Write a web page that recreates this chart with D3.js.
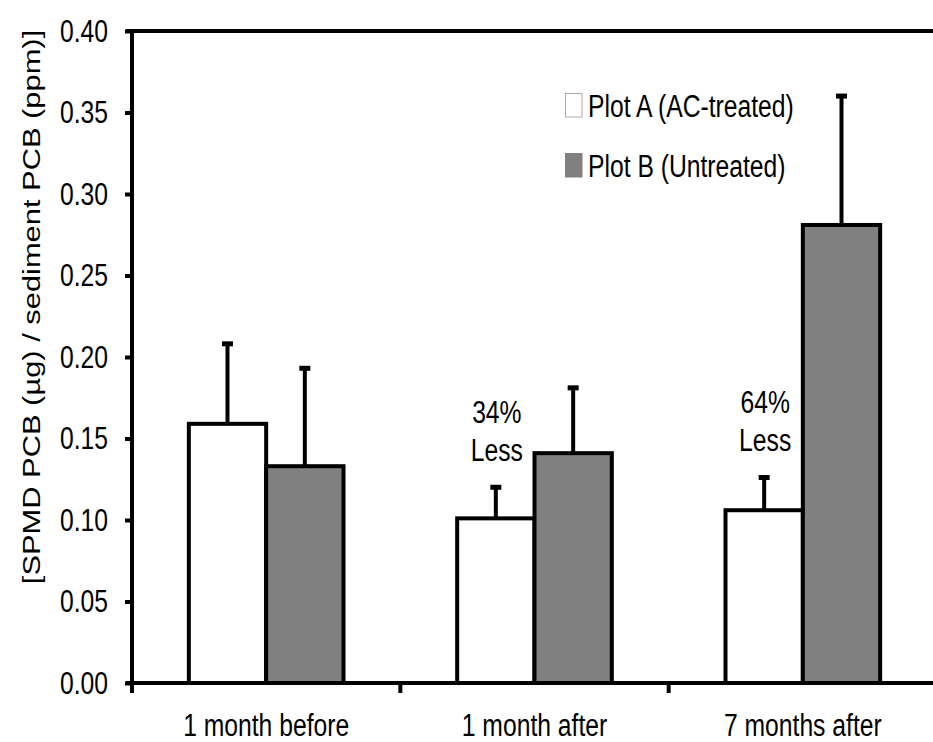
<!DOCTYPE html>
<html>
<head>
<meta charset="utf-8">
<script src="https://cdn.jsdelivr.net/npm/d3@7"></script>
<style>
  body { margin: 0; background: #fff; }
  text { font-family: "Liberation Sans", Arial, sans-serif; fill: #000; }
</style>
</head>
<body>
<div id="wrapper"></div>
<script>
const periods = ["1 month before", "1 month after", "7 months after"];
const seriesNames = ["Plot A (AC-treated)", "Plot B (Untreated)"];
const plotA = [0.159, 0.101, 0.106];
const plotB = [0.133, 0.141, 0.281];
const errA = [0.209, 0.121, 0.127];
const errB = [0.194, 0.182, 0.361];
const notes = [null, ["34%", "Less"], ["64%", "Less"]];
const yTicks = [0, 0.05, 0.1, 0.15, 0.2, 0.25, 0.3, 0.35, 0.4];

const fills = ["#ffffff", "#808080"];
const fontSize = 24.7;
const stretch = 1.25; // the text in the figure is drawn taller than wide

const width = 933;
const height = 742;
const margin = { top: 31, right: -4, bottom: 59, left: 132 };

const svg = d3.select("#wrapper").append("svg")
  .attr("width", width)
  .attr("height", height);

const x = d3.scaleBand()
  .domain(periods)
  .range([margin.left, width - margin.right])
  .paddingInner(0)
  .paddingOuter(0);

const xInner = d3.scaleBand()
  .domain([0, 1])
  .range([0, x.bandwidth()])
  .paddingOuter(0.735)
  .paddingInner(0);

const y = d3.scaleLinear()
  .domain([0, 0.4])
  .range([height - margin.bottom, margin.top]);

// text with baseline at (tx, ty), stretched vertically
function tallText(parent, tx, ty, str, anchor) {
  return parent.append("text")
    .attr("transform", `translate(${tx},${ty}) scale(1,${stretch})`)
    .attr("text-anchor", anchor || "start")
    .attr("font-size", fontSize)
    .text(str);
}

// bars
const groups = svg.selectAll(".group")
  .data(periods)
  .join("g")
  .attr("transform", (d) => `translate(${x(d)},0)`);

groups.each(function (p, i) {
  const g = d3.select(this);
  const vals = [plotA[i], plotB[i]];
  const errs = [errA[i], errB[i]];
  vals.forEach((v, s) => {
    const cx = xInner(s) + xInner.bandwidth() / 2;
    g.append("line")
      .attr("x1", cx).attr("x2", cx)
      .attr("y1", y(v)).attr("y2", y(errs[s]))
      .attr("stroke", "#000").attr("stroke-width", 4);
    g.append("line")
      .attr("x1", cx - 5.5).attr("x2", cx + 5.5)
      .attr("y1", y(errs[s]) + 1.5).attr("y2", y(errs[s]) + 1.5)
      .attr("stroke", "#000").attr("stroke-width", 5);
  });
  vals.forEach((v, s) => {
    g.append("rect")
      .attr("x", xInner(s))
      .attr("width", xInner.bandwidth())
      .attr("y", y(v))
      .attr("height", y(0) - y(v))
      .attr("fill", fills[s])
      .attr("stroke", "#000")
      .attr("stroke-width", 4);
  });
  if (notes[i]) {
    const tx = xInner(0) + xInner.bandwidth() / 2 + 1;
    const ty = y(errA[i]) - 63;
    tallText(g, tx, ty, notes[i][0], "middle");
    tallText(g, tx, ty + 38, notes[i][1], "middle");
  }
});

// top frame line
svg.append("line")
  .attr("x1", margin.left - 6).attr("x2", width)
  .attr("y1", y(0.4)).attr("y2", y(0.4))
  .attr("stroke", "#000").attr("stroke-width", 4);

// y axis
const yAxis = svg.append("g")
  .attr("transform", `translate(${margin.left},0)`)
  .call(d3.axisLeft(y).tickValues(yTicks).tickFormat(d3.format(".2f")).tickSize(7).tickPadding(17));
yAxis.select(".domain").attr("stroke-width", 4).attr("d", `M0,${y(0)}V${y(0.4)}`);
yAxis.selectAll(".tick line").attr("stroke-width", 4);
yAxis.selectAll(".tick text")
  .attr("font-size", fontSize)
  .attr("font-family", null)
  .attr("dy", "0.33em")
  .attr("transform", `scale(1,${stretch})`);

// x axis
const xAxis = svg.append("g")
  .attr("transform", `translate(0,${y(0)})`)
  .call(d3.axisBottom(x).tickSize(0));
xAxis.select(".domain").attr("stroke-width", 4).attr("d", `M${margin.left - 6},0H${width}`);
xAxis.selectAll(".tick text")
  .attr("font-size", fontSize)
  .attr("font-family", null)
  .attr("y", 0).attr("dy", 0)
  .attr("transform", `translate(0,53) scale(1,${stretch})`);
xAxis.selectAll(".sep")
  .data(periods)
  .join("line")
  .attr("class", "sep")
  .attr("x1", (d) => x(d) + x.bandwidth()).attr("x2", (d) => x(d) + x.bandwidth())
  .attr("y1", 0).attr("y2", 10)
  .attr("stroke", "#000").attr("stroke-width", 4);
xAxis.append("line")
  .attr("x1", margin.left).attr("x2", margin.left)
  .attr("y1", 0).attr("y2", 10)
  .attr("stroke", "#000").attr("stroke-width", 4);

// y label
svg.append("text")
  .attr("transform", `translate(40,307) rotate(-90) scale(${stretch},1)`)
  .attr("text-anchor", "middle")
  .attr("font-size", fontSize)
  .text("[SPMD PCB (µg) / sediment PCB (ppm)]");

// legend
const legend = svg.append("g").attr("transform", "translate(565,93)");
seriesNames.forEach((name, i) => {
  const row = legend.append("g").attr("transform", `translate(0,${i * 60})`);
  row.append("rect")
    .attr("x", 0.5).attr("y", 0.5)
    .attr("width", 16.5).attr("height", 23.5)
    .attr("fill", fills[i])
    .attr("stroke", i === 0 ? "#aaa" : "#808080");
  tallText(row, 23, 24, name);
});
</script>
</body>
</html>
